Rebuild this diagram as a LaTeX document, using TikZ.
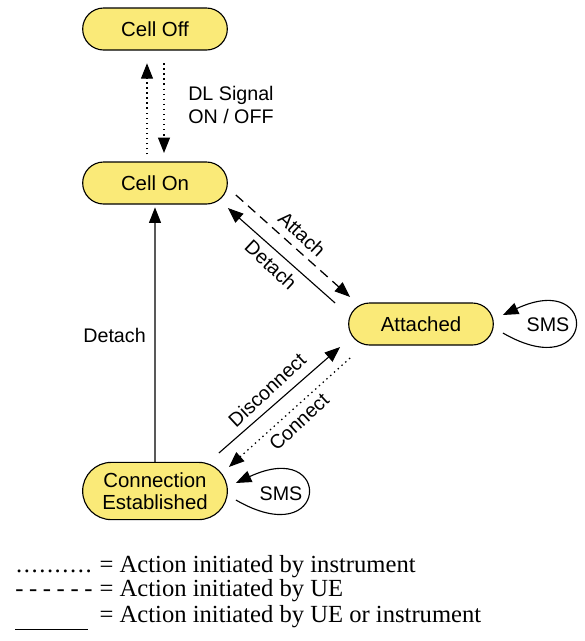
\documentclass[tikz,border=0pt]{standalone}
\usepackage{fontspec}
\setmainfont{Liberation Serif}
\setsansfont{Liberation Sans}
\usetikzlibrary{arrows.meta,shapes.misc}
\definecolor{stateyellow}{RGB}{250,234,120}

\begin{document}
\begin{tikzpicture}[x=0.025cm,y=-0.025cm,
  state/.style={rounded rectangle,draw,line width=0.8pt,fill=stateyellow,
    minimum width=3.85cm,minimum height=1.05cm,align=center,
    font=\sffamily\fontsize{14.5}{16}\selectfont},
  lbl/.style={font=\sffamily\fontsize{14}{17}\selectfont,inner sep=0pt},
  tip/.style={-{Triangle[length=11pt,width=8.5pt]}},
  byinst/.style={tip,line width=0.9pt,dash pattern=on 1pt off 2.6pt},
  byue/.style={tip,line width=0.9pt,dash pattern=on 7pt off 4.5pt},
  byboth/.style={tip,line width=0.8pt},
  legend/.style={anchor=base west,inner sep=0pt,font=\fontsize{17.5}{20}\selectfont}]
  \useasboundingbox (0,0) rectangle (585,641);

  % states
  \node[state] (off) at (155,29) {Cell Off};
  \node[state] (on) at (155,183) {Cell On};
  \node[state] (att) at (421,324) {Attached};
  \node[state,minimum height=1.43cm] (conn) at (155,491) {Connection\\Established};

  % Cell Off <-> Cell On
  \draw[byinst,shorten <=5pt,shorten >=9pt] ([xshift=-0.2cm]on.north) -- ([xshift=-0.2cm]off.south);
  \draw[byinst,shorten <=9pt,shorten >=6pt] ([xshift=0.225cm]off.south) -- ([xshift=0.225cm]on.north);
  \node[lbl,anchor=west,align=left] (dl) at (188,105) {DL Signal\\ON / OFF};

  % Cell On <-> Attached
  \draw[byue] ([shift={(8,12)}]on.east) -- ([shift={(2,-27)}]att.west);
  \draw[byboth] ([shift={(-13,-21)}]att.west) -- ([shift={(0,25)}]on.east);
  \node[lbl,rotate=-43] (attach) at (302,234) {Attach};
  \node[lbl,rotate=-43] (detach1) at (271,265) {Detach};

  % Attached <-> Connection Established
  \draw[byboth] ([shift={(-9,-38)}]conn.east) -- ([shift={(-8,23)}]att.west);
  \draw[byinst] ([shift={(2,34)}]att.west) -- ([shift={(1,-24)}]conn.east);
  \node[lbl,rotate=43] (disc) at (267,390) {Disconnect};
  \node[lbl,rotate=43] (connect) at (299,422) {Connect};

  % Connection Established -> Cell On
  \draw[byboth,shorten >=2pt] (conn) -- (on);
  \node[lbl,anchor=east] (detach2) at (146,335) {Detach};

  % SMS loops
  \draw[byboth] ([shift={(9,9)}]att.east) .. controls +(-30:2.7cm) and +(25:2.7cm) .. ([shift={(9,-9)}]att.east);
  \node[lbl] (sms1) at (548,325) {SMS};
  \draw[byboth] ([shift={(8,9)}]conn.east) .. controls +(-30:2.7cm) and +(25:2.7cm) .. ([shift={(8,-8)}]conn.east);
  \node[lbl] (sms2) at (281,494) {SMS};

  % legend
  \node[legend] (leg1) at (15,572) {\makebox[60pt][l]{\hbox to 55pt{\cleaders\hbox to 5.5pt{\hss.\hss}\hfil}}= Action initiated by instrument};
  \node[legend] (leg2) at (15,596) {\makebox[60pt][l]{\makebox[55pt][s]{-\hfil-\hfil-\hfil-\hfil-\hfil-}}= Action initiated by UE};
  \node[legend] (leg3) at (15,622) {\makebox[60pt][l]{\rule[-6pt]{52pt}{0.9pt}}= Action initiated by UE or instrument};
\end{tikzpicture}
\end{document}
